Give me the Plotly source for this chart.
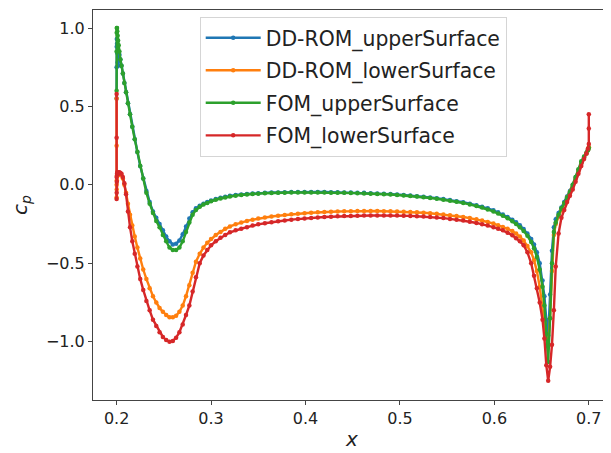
import plotly.graph_objects as go

x_upper = [
    0.2000, 0.2000, 0.2001, 0.2002, 0.2004, 0.2007, 0.2011, 0.2016, 0.2022, 0.2030,
    0.2040, 0.2052, 0.2066, 0.2082, 0.2100, 0.2120, 0.2142, 0.2166, 0.2192, 0.2220,
    0.2250, 0.2282, 0.2315, 0.2350, 0.2385, 0.2420, 0.2455, 0.2490, 0.2525, 0.2560,
    0.2595, 0.2630, 0.2665, 0.2700, 0.2735, 0.2770, 0.2805, 0.2840, 0.2880, 0.2920,
    0.2960, 0.3000, 0.3050, 0.3100, 0.3150, 0.3200, 0.3260, 0.3320, 0.3380, 0.3440,
    0.3500, 0.3570, 0.3640, 0.3710, 0.3780, 0.3850, 0.3920, 0.3990, 0.4060, 0.4130,
    0.4200, 0.4270, 0.4340, 0.4410, 0.4480, 0.4550, 0.4620, 0.4690, 0.4760, 0.4830,
    0.4900, 0.4970, 0.5040, 0.5110, 0.5180, 0.5250, 0.5320, 0.5390, 0.5460, 0.5530,
    0.5600, 0.5670, 0.5740, 0.5810, 0.5870, 0.5930, 0.5990, 0.6040, 0.6090, 0.6140,
    0.6190, 0.6230, 0.6270, 0.6310, 0.6350, 0.6390, 0.6420, 0.6450, 0.6480, 0.6510,
    0.6530, 0.6550, 0.6570, 0.6590, 0.6610, 0.6630, 0.6650, 0.6680, 0.6710, 0.6740,
    0.6770, 0.6800, 0.6830, 0.6860, 0.6890, 0.6920, 0.6950, 0.6975, 0.6990, 0.7000,
]

cp_fom_upper = [
    0.60, 0.85, 0.97, 1.00, 1.00, 0.98, 0.95, 0.92, 0.89, 0.85,
    0.80, 0.76, 0.71, 0.65, 0.59, 0.52, 0.45, 0.37, 0.29, 0.21,
    0.12, 0.04, -0.05, -0.12, -0.18, -0.23, -0.27, -0.32, -0.36, -0.40,
    -0.415, -0.415, -0.40, -0.36, -0.30, -0.24, -0.19, -0.16, -0.14, -0.125,
    -0.115, -0.105, -0.095, -0.087, -0.080, -0.074, -0.069, -0.065, -0.061, -0.058,
    -0.056, -0.054, -0.052, -0.051, -0.050, -0.049, -0.049, -0.049, -0.049, -0.049,
    -0.049, -0.050, -0.050, -0.051, -0.052, -0.053, -0.055, -0.056, -0.058, -0.060,
    -0.062, -0.065, -0.068, -0.071, -0.075, -0.079, -0.084, -0.089, -0.095, -0.101,
    -0.108, -0.116, -0.125, -0.135, -0.145, -0.157, -0.170, -0.183, -0.197, -0.213,
    -0.232, -0.250, -0.270, -0.295, -0.325, -0.365, -0.405, -0.46, -0.54, -0.65,
    -0.77, -0.95, -1.13, -0.85, -0.50, -0.30, -0.24, -0.19, -0.15, -0.115,
    -0.08, -0.045, 0.0, 0.05, 0.10, 0.15, 0.18, 0.205, 0.22, 0.235,
]

cp_rom_upper = [
    0.55, 0.75, 0.88, 0.93, 0.90, 0.84, 0.78, 0.76, 0.80, 0.83,
    0.80, 0.76, 0.71, 0.65, 0.59, 0.52, 0.45, 0.37, 0.29, 0.21,
    0.12, 0.04, -0.04, -0.11, -0.17, -0.21, -0.25, -0.29, -0.33, -0.36,
    -0.38, -0.375, -0.355, -0.315, -0.265, -0.215, -0.175, -0.15, -0.133, -0.12,
    -0.11, -0.10, -0.091, -0.083, -0.076, -0.070, -0.065, -0.061, -0.058, -0.055,
    -0.053, -0.051, -0.049, -0.048, -0.047, -0.046, -0.046, -0.046, -0.046, -0.046,
    -0.046, -0.047, -0.047, -0.048, -0.049, -0.050, -0.051, -0.053, -0.055, -0.057,
    -0.059, -0.062, -0.065, -0.068, -0.072, -0.076, -0.080, -0.085, -0.091, -0.097,
    -0.104, -0.111, -0.12, -0.13, -0.139, -0.15, -0.162, -0.175, -0.189, -0.205,
    -0.222, -0.238, -0.258, -0.282, -0.31, -0.345, -0.38, -0.43, -0.50, -0.61,
    -0.71, -0.86, -0.96, -0.70, -0.42, -0.27, -0.22, -0.18, -0.145, -0.11,
    -0.075, -0.04, 0.0, 0.045, 0.095, 0.14, 0.175, 0.20, 0.22, 0.235,
]

x_lower = [
    0.2000, 0.2000, 0.2000, 0.2000, 0.2001, 0.2002, 0.2004, 0.2007, 0.2011, 0.2016,
    0.2022, 0.2030, 0.2040, 0.2052, 0.2066, 0.2082, 0.2100, 0.2120, 0.2142, 0.2166,
    0.2192, 0.2220, 0.2250, 0.2282, 0.2315, 0.2350, 0.2385, 0.2420, 0.2455, 0.2490,
    0.2525, 0.2560, 0.2595, 0.2630, 0.2665, 0.2700, 0.2735, 0.2770, 0.2805, 0.2840,
    0.2880, 0.2920, 0.2960, 0.3000, 0.3050, 0.3100, 0.3150, 0.3200, 0.3260, 0.3320,
    0.3380, 0.3440, 0.3500, 0.3570, 0.3640, 0.3710, 0.3780, 0.3850, 0.3920, 0.3990,
    0.4060, 0.4130, 0.4200, 0.4270, 0.4340, 0.4410, 0.4480, 0.4550, 0.4620, 0.4690,
    0.4760, 0.4830, 0.4900, 0.4970, 0.5040, 0.5110, 0.5180, 0.5250, 0.5320, 0.5390,
    0.5460, 0.5530, 0.5600, 0.5670, 0.5740, 0.5810, 0.5870, 0.5930, 0.5990, 0.6040,
    0.6090, 0.6140, 0.6190, 0.6230, 0.6270, 0.6310, 0.6350, 0.6390, 0.6420, 0.6450,
    0.6480, 0.6510, 0.6530, 0.6550, 0.6570, 0.6590, 0.6610, 0.6630, 0.6650, 0.6680,
    0.6710, 0.6740, 0.6770, 0.6800, 0.6830, 0.6860, 0.6890, 0.6920, 0.6950, 0.6975,
    0.6990, 0.7000, 0.7000, 0.7000,
]

cp_fom_lower = [
    0.58, 0.30, 0.05, -0.09, -0.05, 0.02, 0.07, 0.08, 0.07, 0.08,
    0.07, 0.08, 0.075, 0.07, 0.05, 0.01, -0.06, -0.17, -0.27, -0.36,
    -0.44, -0.52, -0.60, -0.67, -0.74, -0.80, -0.86, -0.90, -0.94, -0.97,
    -0.99, -1.00, -0.995, -0.975, -0.94, -0.89, -0.83, -0.77, -0.68, -0.59,
    -0.50, -0.45, -0.415, -0.385, -0.36, -0.338, -0.32, -0.303, -0.29, -0.28,
    -0.27, -0.26, -0.252, -0.245, -0.238, -0.232, -0.227, -0.222, -0.218, -0.214,
    -0.211, -0.208, -0.205, -0.203, -0.201, -0.199, -0.198, -0.197, -0.196, -0.195,
    -0.195, -0.195, -0.195, -0.196, -0.197, -0.198, -0.200, -0.202, -0.205, -0.208,
    -0.212, -0.217, -0.222, -0.228, -0.235, -0.243, -0.251, -0.26, -0.27, -0.28,
    -0.29, -0.305, -0.322, -0.34, -0.36, -0.385, -0.43, -0.50, -0.58, -0.66,
    -0.75, -0.86, -0.98, -1.15, -1.25, -1.16, -1.02, -0.80, -0.52, -0.31,
    -0.21, -0.16, -0.11, -0.07, -0.03, 0.02, 0.07, 0.12, 0.165, 0.20,
    0.23, 0.26, 0.36, 0.45,
]

cp_rom_lower = [
    0.55, 0.25, 0.00, -0.08, -0.03, 0.03, 0.06, 0.07, 0.06, 0.07,
    0.065, 0.07, 0.065, 0.06, 0.04, 0.00, -0.05, -0.12, -0.19, -0.26,
    -0.33, -0.40, -0.47, -0.54, -0.60, -0.66, -0.71, -0.75, -0.785, -0.81,
    -0.83, -0.845, -0.845, -0.835, -0.81, -0.77, -0.71, -0.64, -0.56, -0.49,
    -0.44, -0.40, -0.37, -0.345, -0.32, -0.30, -0.28, -0.265, -0.252, -0.24,
    -0.23, -0.222, -0.215, -0.208, -0.202, -0.197, -0.192, -0.188, -0.184, -0.181,
    -0.178, -0.175, -0.173, -0.171, -0.17, -0.169, -0.168, -0.167, -0.167, -0.167,
    -0.167, -0.168, -0.169, -0.17, -0.171, -0.173, -0.175, -0.178, -0.181, -0.185,
    -0.189, -0.194, -0.199, -0.205, -0.212, -0.22, -0.228, -0.237, -0.247, -0.257,
    -0.268, -0.28, -0.295, -0.31, -0.33, -0.355, -0.39, -0.43, -0.48, -0.55,
    -0.65, -0.77, -0.88, -0.98, -1.03, -0.85, -0.55, -0.32, -0.25, -0.20,
    -0.16, -0.12, -0.08, -0.045, -0.005, 0.04, 0.09, 0.14, 0.175, 0.20,
    0.22, 0.235, 0.24, 0.24,
]

series_names = ["DD-ROM_upperSurface", "DD-ROM_lowerSurface", "FOM_upperSurface", "FOM_lowerSurface"]
series_colors = ["#1f77b4", "#ff7f0e", "#2ca02c", "#d62728"]
series_x = [x_upper, x_lower, x_upper, x_lower]
series_y = [cp_rom_upper, cp_rom_lower, cp_fom_upper, cp_fom_lower]

x_ticks = [0.2, 0.3, 0.4, 0.5, 0.6, 0.7]
y_ticks = [-1.0, -0.5, 0.0, 0.5, 1.0]
y_tick_labels = ["\u22121.0", "\u22120.5", "0.0", "0.5", "1.0"]

fig = go.Figure()
for name, color, xs, ys in zip(series_names, series_colors, series_x, series_y):
    fig.add_trace(go.Scatter(
        x=xs, y=ys, name=name, legendgroup=name, mode="lines+markers",
        line=dict(color=color, width=2.4),
        marker=dict(color=color, size=4.5, symbol="circle"),
    ))

font_family = "DejaVu Sans"
fig.update_layout(
    width=603, height=445,
    margin=dict(l=83, r=0, t=2, b=53),
    paper_bgcolor="white", plot_bgcolor="white",
    font=dict(family=font_family, size=16, color="#222"),
    showlegend=True,
    legend=dict(
        x=0.206, y=0.982, xanchor="left", yanchor="top",
        bgcolor="rgba(255,255,255,0.85)", bordercolor="#d5d5d5", borderwidth=1,
        font=dict(family=font_family, size=20.4, color="#222"),
        itemwidth=55, traceorder="grouped", tracegroupgap=3,
    ),
    xaxis=dict(
        range=[0.175, 0.7235], tickvals=x_ticks, ticktext=[f"{v:.1f}" for v in x_ticks],
        showline=True, linecolor="#444", linewidth=1, mirror=True,
        ticks="outside", ticklen=4, tickcolor="#444", showgrid=False, zeroline=False,
        title=dict(text="<i>x</i>", font=dict(size=20), standoff=4),
        tickfont=dict(size=16),
    ),
    yaxis=dict(
        range=[-1.372, 1.115], tickvals=y_ticks, ticktext=y_tick_labels,
        showline=True, linecolor="#444", linewidth=1, mirror=False,
        ticks="outside", ticklen=4, tickcolor="#444", showgrid=False, zeroline=False,
        title=dict(text="<i>c<sub>p</sub></i>", font=dict(size=20), standoff=24),
        tickfont=dict(size=16),
    ),
)

fig.write_html("out.html")
